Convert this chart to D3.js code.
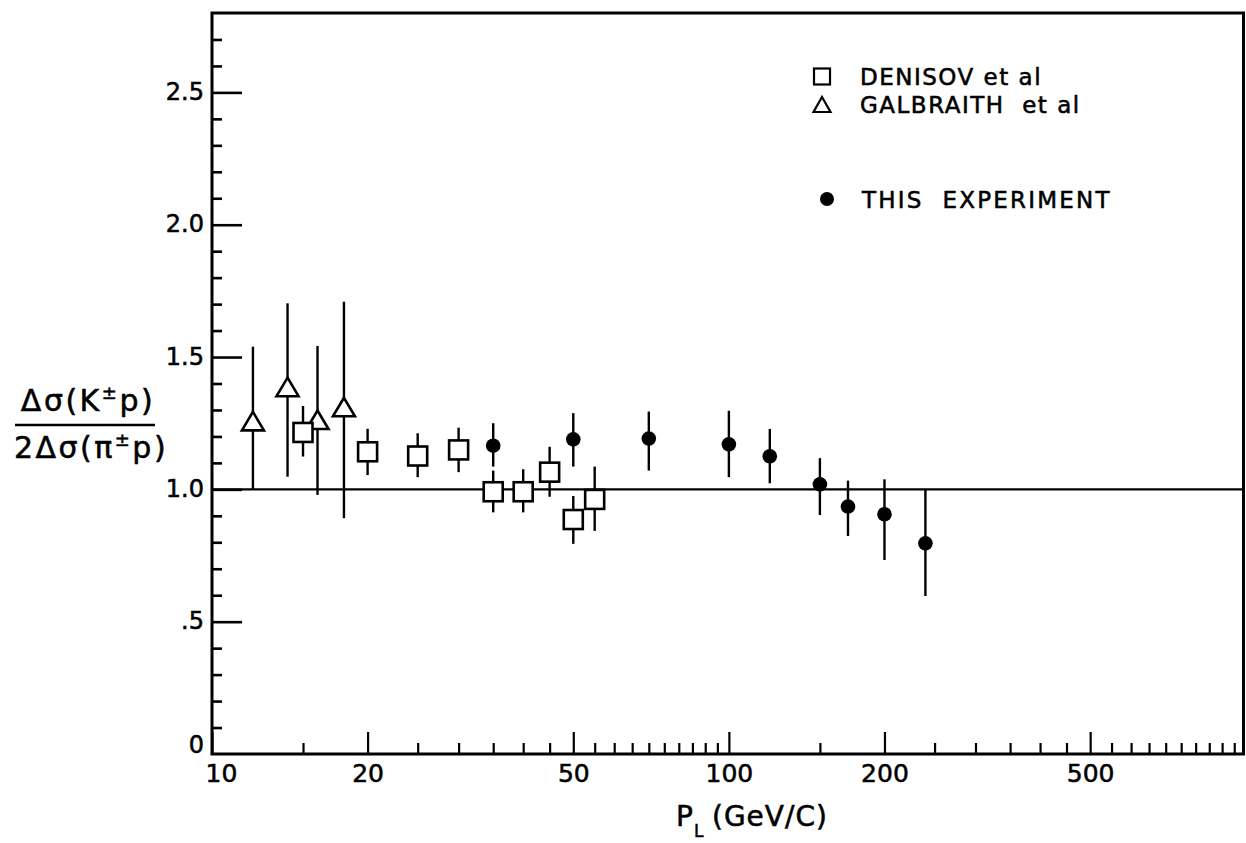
<!DOCTYPE html>
<html>
<head>
<meta charset="utf-8">
<script src="https://cdn.jsdelivr.net/npm/d3@7"></script>
<style>
  html, body { margin: 0; padding: 0; background: #fff; }
  svg { display: block; }
  text { font-family: "DejaVu Sans", sans-serif; fill: #000; stroke: #000; stroke-width: 0.55px; }
</style>
</head>
<body>
<svg id="chart" width="1246" height="843"></svg>
<script>
// Ratio of K±p to π±p total cross-section differences versus lab momentum

// Galbraith et al (open triangles)
const galP  = [12, 14, 16, 18];
const galR  = [1.258, 1.387, 1.263, 1.311];
const galLo = [1.00, 1.048, 0.979, 0.891];
const galHi = [1.539, 1.703, 1.542, 1.709];

// Denisov et al (open squares)
const denP  = [15, 20, 25, 30, 35, 40, 45, 50, 55];
const denR  = [1.215, 1.142, 1.126, 1.149, 0.991, 0.991, 1.065, 0.886, 0.962];
const denLo = [1.124, 1.054, 1.046, 1.065, 0.913, 0.913, 0.972, 0.794, 0.843];
const denHi = [1.315, 1.229, 1.212, 1.233, 1.071, 1.076, 1.161, 0.975, 1.086];

// This experiment (filled circles)
const expP  = [35, 50, 70, 100, 120, 150, 170, 200, 240];
const expR  = [1.165, 1.189, 1.192, 1.170, 1.125, 1.019, 0.935, 0.906, 0.796];
const expLo = [1.086, 1.086, 1.071, 1.046, 1.023, 0.903, 0.824, 0.733, 0.597];
const expHi = [1.250, 1.288, 1.294, 1.297, 1.228, 1.118, 1.033, 1.038, 0.998];

// Axis ticks
const xMajor = [10, 20, 50, 100, 200, 500];
const xMinor = [15, 25, 30, 35, 40, 45, 55, 60, 65, 70, 75, 80, 85, 90, 95, 150,
                250, 300, 350, 400, 450, 550, 600, 650, 700, 750, 800, 850, 900, 950];
const yMajor = [0.5, 1.0, 1.5, 2.0, 2.5];
const yMinor = [0.1, 0.2, 0.3, 0.4, 0.6, 0.7, 0.8, 0.9, 1.1, 1.2, 1.3, 1.4,
                1.6, 1.7, 1.8, 1.9, 2.1, 2.2, 2.3, 2.4, 2.6, 2.7];
const yLabels = ["0", ".5", "1.0", "1.5", "2.0", "2.5"];
const yLabelVals = [0, 0.5, 1.0, 1.5, 2.0, 2.5];
const refLine = 1.0;

const legendItems = [
  { shape: "square",   label: "DENISOV et al" },
  { shape: "triangle", label: "GALBRAITH  et al" },
  { shape: "circle",   label: "THIS  EXPERIMENT" }
];

const svg = d3.select("#chart");
const plot = { left: 212, right: 1243.5, top: 13, bottom: 754 };

const x = d3.scaleLog().domain([10, 990]).range([plot.left, plot.right]);
const y = d3.scaleLinear().domain([0, 2.8]).range([plot.bottom, plot.top]);

// ---- x axis: minor and major ticks pointing up into the plot
svg.append("g")
  .attr("transform", `translate(0,${plot.bottom})`)
  .call(d3.axisBottom(x).tickValues(xMinor).tickSize(-11).tickFormat(""))
  .call(g => g.select(".domain").remove())
  .call(g => g.selectAll("line").attr("stroke", "#000").attr("stroke-width", 2.2));

const xAx = svg.append("g")
  .attr("transform", `translate(0,${plot.bottom})`)
  .call(d3.axisBottom(x).tickValues(xMajor).tickSize(-22).tickPadding(10).tickFormat(d3.format("d")))
  .call(g => g.select(".domain").remove())
  .call(g => g.selectAll("line").attr("stroke", "#000").attr("stroke-width", 2.2));
xAx.selectAll("text")
  .attr("font-size", 25)
  .attr("font-family", "DejaVu Sans")
  .attr("fill", "#000")
  .attr("dx", d => d === 10 ? 9 : 0);

// ---- y axis: minor and major ticks pointing right into the plot
svg.append("g")
  .attr("transform", `translate(${plot.left},0)`)
  .call(d3.axisLeft(y).tickValues(yMinor).tickSize(-10).tickFormat(""))
  .call(g => g.select(".domain").remove())
  .call(g => g.selectAll("line").attr("stroke", "#000").attr("stroke-width", 2.6));

svg.append("g")
  .attr("transform", `translate(${plot.left},0)`)
  .call(d3.axisLeft(y).tickValues(yMajor).tickSize(-30).tickFormat(""))
  .call(g => g.select(".domain").remove())
  .call(g => g.selectAll("line").attr("stroke", "#000").attr("stroke-width", 2.6));

const yAx = svg.append("g")
  .attr("transform", `translate(${plot.left},0)`)
  .call(d3.axisLeft(y).tickValues(yLabelVals).tickSize(0).tickPadding(8)
    .tickFormat((d, i) => yLabels[i]))
  .call(g => g.select(".domain").remove());
yAx.selectAll("text")
  .attr("font-size", 24)
  .attr("font-family", "DejaVu Sans")
  .attr("fill", "#000")
  .attr("dy", d => d === 0 ? "-0.05em" : "0.3em");

// ---- frame
svg.append("rect")
  .attr("x", plot.left).attr("y", plot.top)
  .attr("width", plot.right - plot.left).attr("height", plot.bottom - plot.top)
  .attr("fill", "none").attr("stroke", "#000").attr("stroke-width", 3);

// ---- reference line at ratio 1
svg.append("line")
  .attr("x1", plot.left).attr("x2", plot.right)
  .attr("y1", y(refLine)).attr("y2", y(refLine))
  .attr("stroke", "#000").attr("stroke-width", 2.4);

// ---- error bars
function errorBars(ps, lo, hi) {
  svg.append("g").selectAll("line")
    .data(ps.map((p, i) => ({ p, lo: lo[i], hi: hi[i] })))
    .join("line")
    .attr("x1", d => x(d.p)).attr("x2", d => x(d.p))
    .attr("y1", d => y(d.lo)).attr("y2", d => y(d.hi))
    .attr("stroke", "#000").attr("stroke-width", 2.4);
}
errorBars(galP, galLo, galHi);
errorBars(denP, denLo, denHi);
errorBars(expP, expLo, expHi);

// ---- markers
const triPath = (cx, cy, w, h) =>
  `M${cx},${cy - h / 2}L${cx + w / 2},${cy + h / 2}L${cx - w / 2},${cy + h / 2}Z`;

svg.append("g").selectAll("path")
  .data(galP.map((p, i) => ({ p, r: galR[i] })))
  .join("path")
  .attr("d", d => triPath(x(d.p), y(d.r), 22, 18.5))
  .attr("fill", "#fff").attr("stroke", "#000").attr("stroke-width", 2.6)
  .attr("stroke-linejoin", "miter");

const sq = 19;
svg.append("g").selectAll("rect")
  .data(denP.map((p, i) => ({ p, r: denR[i] })))
  .join("rect")
  .attr("x", d => x(d.p) - sq / 2).attr("y", d => y(d.r) - sq / 2)
  .attr("width", sq).attr("height", sq)
  .attr("fill", "#fff").attr("stroke", "#000").attr("stroke-width", 2.6);

svg.append("g").selectAll("circle")
  .data(expP.map((p, i) => ({ p, r: expR[i] })))
  .join("circle")
  .attr("cx", d => x(d.p)).attr("cy", d => y(d.r))
  .attr("r", 7.3).attr("fill", "#000");

// ---- legend
const legendRows = [76.5, 104.5, 199];
const legendSpacing = [1.5, 1.5, 2.2];
const leg = svg.append("g");
legendItems.forEach((item, i) => {
  const cy = legendRows[i];
  if (item.shape === "square") {
    leg.append("rect").attr("x", 814).attr("y", cy - 8).attr("width", 16).attr("height", 16)
      .attr("fill", "#fff").attr("stroke", "#000").attr("stroke-width", 2.2);
  } else if (item.shape === "triangle") {
    leg.append("path").attr("d", triPath(822, cy, 17, 15))
      .attr("fill", "#fff").attr("stroke", "#000").attr("stroke-width", 2.2);
  } else {
    leg.append("circle").attr("cx", 827).attr("cy", cy).attr("r", 7).attr("fill", "#000");
  }
  leg.append("text")
    .attr("x", i === 2 ? 862 : 860).attr("y", cy + 8.5)
    .attr("font-size", 23).attr("letter-spacing", legendSpacing[i])
    .style("white-space", "pre")
    .text(item.label);
});

// ---- y axis title (fraction)
const yt = svg.append("g");
const num = yt.append("text").attr("x", 88).attr("y", 411)
  .attr("text-anchor", "middle").attr("font-size", 30).attr("letter-spacing", 2.5);
num.append("tspan").text("Δσ(K");
num.append("tspan").attr("font-size", 18).attr("dy", -12).text("±");
num.append("tspan").attr("dy", 12).text("p)");
yt.append("line").attr("x1", 15).attr("x2", 155).attr("y1", 425).attr("y2", 425)
  .attr("stroke", "#000").attr("stroke-width", 2.6);
const den = yt.append("text").attr("x", 91).attr("y", 458)
  .attr("text-anchor", "middle").attr("font-size", 30).attr("letter-spacing", 2.5);
den.append("tspan").text("2Δσ(π");
den.append("tspan").attr("font-size", 18).attr("dy", -12).text("±");
den.append("tspan").attr("dy", 12).text("p)");

// ---- x axis title: P with subscript L, then the unit
svg.append("text").attr("x", 676).attr("y", 826).attr("font-size", 28).text("P");
svg.append("text").attr("x", 694).attr("y", 837).attr("font-size", 17).text("L");
svg.append("text").attr("x", 712).attr("y", 826).attr("font-size", 28)
  .attr("letter-spacing", 1).text("(GeV/C)");
</script>
</body>
</html>
